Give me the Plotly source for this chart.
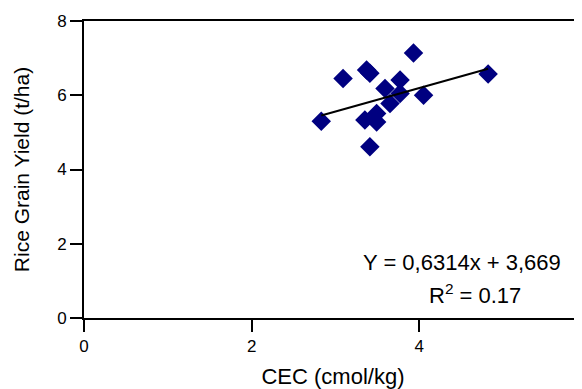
import plotly.graph_objects as go

cec = [2.83, 3.09, 3.37, 3.41, 3.93, 4.82, 3.77, 3.59, 3.77, 4.05, 3.65, 3.49, 3.35, 3.49, 3.41]
yield_t = [5.30, 6.45, 6.68, 6.59, 7.14, 6.57, 6.41, 6.18, 6.05, 6.00, 5.78, 5.51, 5.33, 5.28, 4.61]
slope = 0.6314
intercept = 3.669
x_ticks = [0, 2, 4]
y_ticks = [0, 2, 4, 6, 8]

fit_x = [min(cec), max(cec)]
fit_y = [slope * v + intercept for v in fit_x]

# page body has an 8px default margin: compensate so the screen matches
OFF = 8
W, H = 582 - OFF, 389 - OFF
L, R, T, B = 84 - OFF, 0, 21 - OFF, 71
pw, ph = W - L - R, H - T - B


def px(x):
    return (x - OFF - L) / pw


def py(y):
    return (H - B - (y - OFF)) / ph


fig = go.Figure()
fig.add_trace(go.Scatter(
    x=cec, y=yield_t, mode="markers",
    marker=dict(symbol="diamond", size=15, color="#000080", line=dict(width=0)),
    showlegend=False,
))
fig.add_trace(go.Scatter(
    x=fit_x, y=fit_y, mode="lines",
    line=dict(color="black", width=2), showlegend=False,
))

font = "Liberation Sans, Arial, Helvetica, sans-serif"
fig.update_layout(
    width=W, height=H,
    margin=dict(l=L, r=R, t=T, b=B, autoexpand=False),
    paper_bgcolor="white", plot_bgcolor="white",
    font=dict(family=font, color="black"),
    xaxis=dict(
        range=[0, 5.94], tickvals=x_ticks, ticks="outside", ticklen=12, tickwidth=1.5,
        tickcolor="black", showline=True, linecolor="black", linewidth=2, mirror=True,
        showgrid=False, zeroline=False, tickfont=dict(size=17), automargin=False,
        title=dict(text="CEC (cmol/kg)", font=dict(size=22), standoff=14),
    ),
    yaxis=dict(
        range=[0, 8], tickvals=y_ticks, ticks="outside", ticklen=12, tickwidth=1.5,
        tickcolor="black", showline=True, linecolor="black", linewidth=2,
        showgrid=False, zeroline=False, tickfont=dict(size=17), automargin=False,
        title=dict(text="Rice Grain Yield (t/ha)", font=dict(size=21), standoff=22),
    ),
    annotations=[
        dict(x=px(462), y=py(262.7), xref="paper", yref="paper", showarrow=False,
             xanchor="center", yanchor="middle",
             text="Y = 0,6314x + 3,669", font=dict(size=22)),
        dict(x=px(475), y=py(294), xref="paper", yref="paper", showarrow=False,
             xanchor="center", yanchor="middle",
             text="R<sup>2</sup> = 0.17", font=dict(size=22)),
    ],
)

fig.write_html("out.html")
